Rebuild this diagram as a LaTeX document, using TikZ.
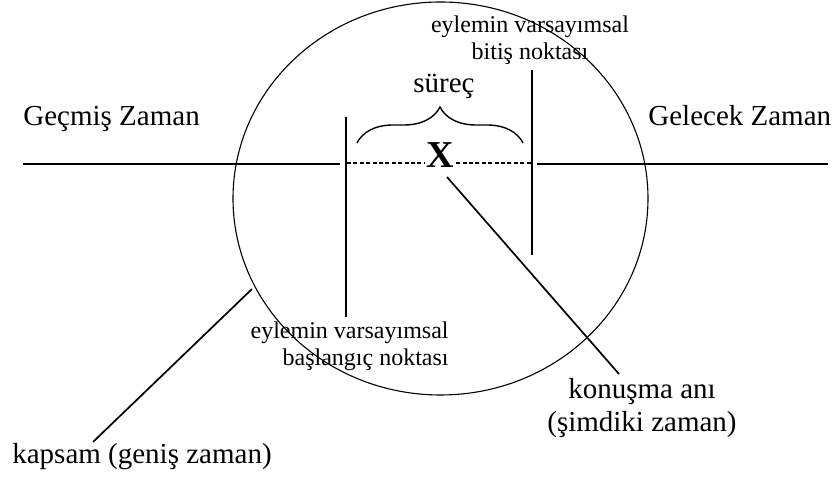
\documentclass[tikz,border=0pt]{standalone}
\usepackage{fontspec}
\setmainfont{Liberation Serif}
\usetikzlibrary{decorations.pathreplacing}

\tikzset{
  buyuk/.style={font=\fontsize{14.5}{16.5}\selectfont},
  kucuk/.style={font=\fontsize{12}{13.8}\selectfont},
  cizgi/.style={line width=0.85pt},
  kesik/.style={line width=0.65pt,dash pattern=on 2pt off 1.2pt},
}

\begin{document}
\begin{tikzpicture}[x=0.5pt,y=-0.5pt,inner sep=0pt]
      \useasboundingbox (0,0) rectangle (832,480);
      \draw[line width=0.55pt] (440.5,198.5) ellipse [x radius=103.75pt, y radius=98.25pt];
      \draw[cizgi] (23,164) -- (340,164);
      \draw[cizgi] (537,164) -- (828,164);
      \draw[cizgi] (346,117) -- (346,317);
      \draw[cizgi] (532,70) -- (532,255);
      \coordinate (basla) at (347,163);
      \coordinate (bitir) at (531,163);
      \node[font=\fontsize{19}{19}\selectfont\bfseries,inner sep=1pt,anchor=base] (x) at (440,168) {X};
      \draw[kesik] (basla) -- (basla -| x.west);
      \draw[kesik] (bitir -| x.east) -- (bitir);
      \draw[line width=0.7pt,decorate,decoration={brace,amplitude=18pt,aspect=0.5}] (357,143) -- (523,143);
      \node[buyuk,anchor=base] (surec) at (444,93) {süreç};
      \node[buyuk,anchor=base west] (gecmis) at (23,126) {Geçmiş Zaman};
      \node[buyuk,anchor=base west] (gelecek) at (648,126) {Gelecek Zaman};
      \node[kucuk,align=center,anchor=base] (bitis) at (530,60) {eylemin varsayımsal\\bitiş noktası};
      \node[kucuk,align=right,anchor=base east] (baslangic) at (449,366) {eylemin varsayımsal\\başlangıç noktası};
      \node[buyuk,align=center,anchor=base] (konusma) at (642,432) {konuşma anı\\(şimdiki zaman)};
      \node[buyuk,anchor=base] (kapsam) at (142,464) {kapsam (geniş zaman)};
      \coordinate (xayak) at (447,177);
      \coordinate (konusmaucu) at (619,374);
      \coordinate (kapsamucu) at (93,442);
      \coordinate (elipsucu) at (252,289);
      \draw[cizgi] (xayak) -- (konusmaucu);
      \draw[cizgi] (elipsucu) -- (kapsamucu);
    \end{tikzpicture}
\end{document}
